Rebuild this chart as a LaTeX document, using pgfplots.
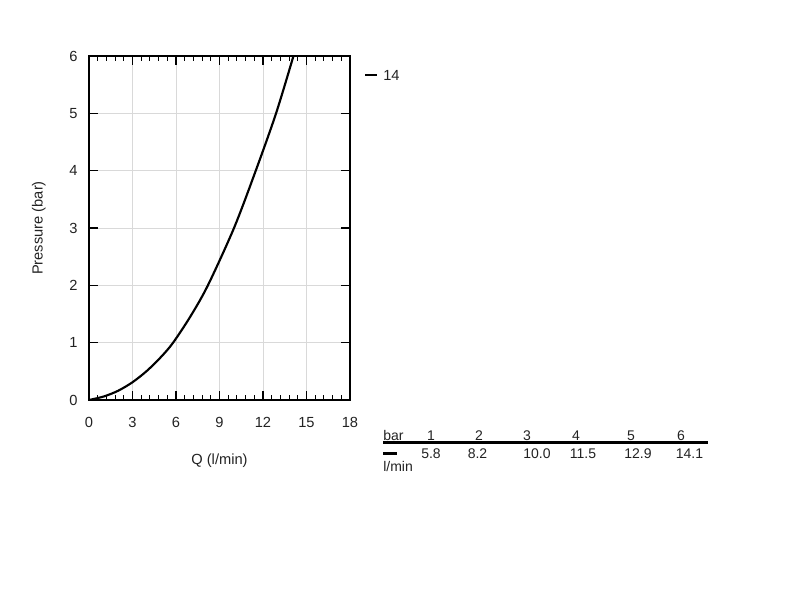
\documentclass[border=0pt]{standalone}
\usepackage{pgfplots}
\pgfplotsset{compat=1.18}
\usepackage{fontspec}
\setmainfont{Liberation Sans}
\definecolor{txt}{HTML}{222222}
\begin{document}
\begin{tikzpicture}
\begin{axis}[
  at={(66.75pt,-300pt)}, anchor=south west,
  scale only axis, width=195.75pt, height=258pt,
  xmin=0, xmax=18, ymin=0, ymax=6,
  xtick={0,3,...,18}, ytick={0,1,...,6},
  minor x tick num=4,
  tick align=inside,
  major tick length=6.5pt, minor tick length=3.5pt,
  xtick pos=both, ytick pos=both,
  xticklabel pos=bottom, yticklabel pos=left,
  grid=major, major grid style={color=black!15, line width=0.6pt},
  axis line style={line width=1.4pt},
  every tick/.style={black, line width=0.8pt},
  tick label style={font=\fontsize{11}{13}\selectfont, text=txt},
  /pgf/number format/assume math mode=true,
  xticklabel style={anchor=base, yshift=-20.5pt},
  yticklabel style={xshift=-5pt},
  xlabel={Q (l/min)}, ylabel={Pressure (bar)},
  label style={font=\fontsize{11}{13}\selectfont, text=txt},
  xlabel style={yshift=-13pt},
  ylabel style={yshift=11pt},
  clip=true,
]
\addplot[black, line width=1.6pt, smooth, tension=0.5] coordinates {
 (0,0) (1,0.06) (2,0.16) (3,0.31) (4,0.51) (5,0.76) (5.8,1) (7,1.46) (8.2,2) (10,3) (11.5,4) (12.9,5) (14.1,6)
};
\end{axis}
\begin{scope}[x=0.75pt,y=-0.75pt]
\path (0,0) rectangle (800,600);
\draw[line width=1.6pt] (365,75) -- (377,75);
\node[anchor=west, text=txt, font=\fontsize{11}{13}\selectfont, inner sep=0] at (383,75) {14};
% table
\node[anchor=west, text=txt, font=\fontsize{10.5}{12}\selectfont, inner sep=0] at (383,435.5) {bar};
\draw[line width=1.9pt] (383,442.5) -- (708,442.5);
\draw[line width=1.6pt] (383,453.5) -- (397,453.5);
\node[anchor=west, text=txt, font=\fontsize{10.5}{12}\selectfont, inner sep=0] at (383,466) {l/min};
\foreach \xx/\t in {431/1,479/2,527/3,576/4,631/5,681/6}
  \node[text=txt, font=\fontsize{10.5}{12}\selectfont, inner sep=0] at (\xx,435.5) {\t};
\foreach \xx/\t in {431/5.8,477.5/8.2,537/10.0,583/11.5,638/12.9,689.5/14.1}
  \node[text=txt, font=\fontsize{10.5}{12}\selectfont, inner sep=0] at (\xx,453.5) {\t};
\end{scope}
\end{tikzpicture}
\end{document}
